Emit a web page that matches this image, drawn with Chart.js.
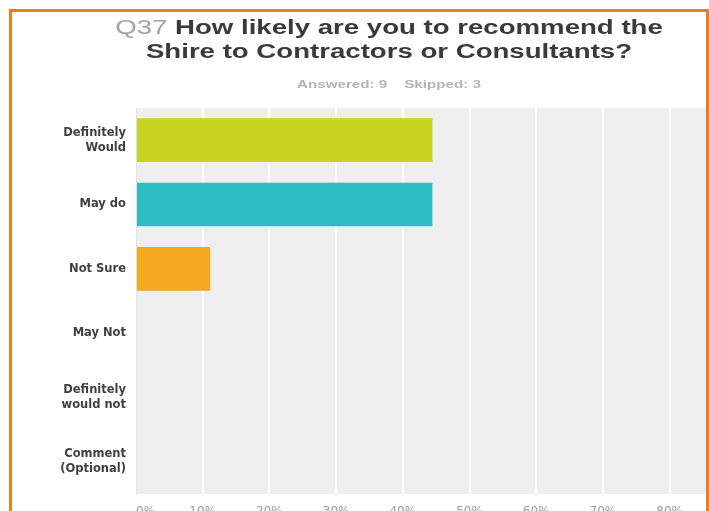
<!DOCTYPE html>
<html>
<head>
<meta charset="utf-8">
<script src="https://cdn.jsdelivr.net/npm/chart.js@4"></script>
<style>
  html, body { margin: 0; padding: 0; background: #fff; }
  #frame { position: relative; width: 709px; height: 511px; overflow: hidden; background: #fff; }
  #clip { position: absolute; left: 0; top: 0; width: 707px; height: 511px; overflow: hidden; }
  #myChart { position: absolute; left: 0; top: 0; }
  #border { position: absolute; left: 9px; top: 9px; width: 694px; height: 600px; border: 3px solid #ef7b1f; pointer-events: none; }
  .title { position: absolute; left: 69px; width: 640px; text-align: center; font-family: "Liberation Sans", Arial, sans-serif; font-weight: bold; font-size: 20px; line-height: 20px; color: #3a3a3a; white-space: nowrap; transform: scaleX(1.38); transform-origin: 320px 0; }
  .title .q { color: #a3a3a3; font-weight: normal; }
  #sub { position: absolute; left: 69px; width: 640px; top: 79px; text-align: center; font-family: "Liberation Sans", Arial, sans-serif; font-weight: bold; font-size: 11px; line-height: 11px; color: #b4b4b4; white-space: nowrap; transform: scaleX(1.38); transform-origin: 320px 0; }
</style>
</head>
<body>
<div id="frame">
  <div id="clip"><canvas id="myChart" width="818" height="520"></canvas></div>
  <div class="title" style="top:17px"><span class="q">Q37</span> How likely are you to recommend the</div>
  <div class="title" style="top:41px">Shire to Contractors or Consultants?</div>
  <div id="sub">Answered: 9&nbsp;&nbsp;&nbsp;&nbsp;Skipped: 3</div>
  <div id="border"></div>
</div>
<script>
// answer choices and share of respondents (%)
var categories = [["Definitely", "Would"], "May do", "Not Sure", "May Not", ["Definitely", "would not"], ["Comment", "(Optional)"]];
var percents = [44.44, 44.44, 11.11, 0, 0, 0];
var bar_colors = ["#cbd321", "#2dbec5", "#f6a71d", "#888888", "#888888", "#888888"];
var x_ticks = [0, 10, 20, 30, 40, 50, 60, 70, 80, 90, 100];

// grey plot background
var plotBg = {
    id: "plotBg",
    beforeDraw: function (chart) {
        var a = chart.chartArea;
        var c = chart.ctx;
        c.save();
        c.fillStyle = "#efefef";
        c.fillRect(a.left, a.top, a.right - a.left, a.bottom - a.top);
        c.restore();
    }
};

var ctx = document.getElementById("myChart").getContext("2d");
var chart = new Chart(ctx, {
    type: "bar",
    data: {
        labels: categories,
        datasets: [{
            data: percents,
            backgroundColor: bar_colors,
            borderWidth: 0,
            categoryPercentage: 0.68,
            barPercentage: 1
        }]
    },
    options: {
        indexAxis: "y",
        responsive: false,
        animation: false,
        layout: { padding: { top: 108, left: 0, right: 15, bottom: 0 } },
        plugins: { legend: { display: false }, tooltip: { enabled: false } },
        scales: {
            x: {
                min: 0,
                max: 100,
                afterBuildTicks: function (axis) {
                    axis.ticks = x_ticks.map(function (v) { return { value: v }; });
                },
                afterFit: function (axis) { axis.height = 26; },
                grid: { color: "#ffffff", lineWidth: 2, drawTicks: false },
                border: { display: false },
                ticks: {
                    padding: 11,
                    align: "inner",
                    color: "#9a9a9a",
                    font: { family: "DejaVu Sans", size: 12 },
                    callback: function (v) { return v + "%"; }
                }
            },
            y: {
                afterFit: function (axis) { axis.width = 136; },
                grid: { display: false, drawTicks: false },
                border: { display: true, color: "#e2e2e2" },
                ticks: {
                    padding: 10,
                    color: "#3f3f3f",
                    font: { family: "DejaVu Sans", size: 11.5, weight: "bold", lineHeight: 1.3 }
                }
            }
        }
    },
    plugins: [plotBg]
});
</script>
</body>
</html>
